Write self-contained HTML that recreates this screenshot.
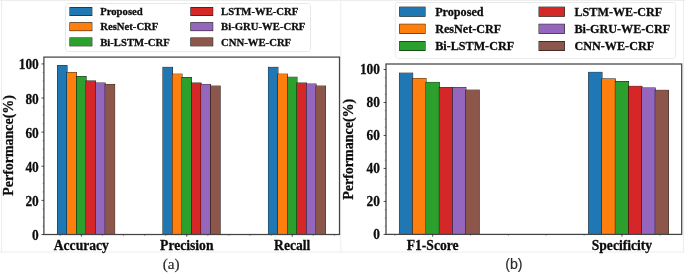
<!DOCTYPE html>
<html><head><meta charset="utf-8"><title>chart</title>
<style>html,body{margin:0;padding:0;background:#fff;}body{width:685px;height:274px;position:relative;overflow:hidden;font-family:"Liberation Serif",serif;}</style></head>
<body>
<svg width="685" height="274" viewBox="0 0 685 274" style="position:absolute;left:0;top:0;filter:blur(0.45px)">
<rect x="0" y="0" width="685" height="274" fill="#fff"/>
<g stroke="#ededed" stroke-width="1" fill="none">
<line x1="1.5" y1="0" x2="1.5" y2="252.0"/>
<line x1="0" y1="0.5" x2="685" y2="0.5"/>
<line x1="340.8" y1="0" x2="340.8" y2="252.0"/>
<line x1="0" y1="252.0" x2="685" y2="252.0"/>
<line x1="683.5" y1="0" x2="683.5" y2="252.0"/>
</g>
<g font-family="'Liberation Serif', serif" font-weight="bold" fill="#0c0c0c" stroke="#0c0c0c" stroke-width="0.28" paint-order="stroke">
<rect x="57.50" y="65.63" width="9.53" height="168.87" fill="#1f77b4" stroke="#050505" stroke-width="0.85"/>
<rect x="67.03" y="72.45" width="9.53" height="162.05" fill="#ff7f0e" stroke="#050505" stroke-width="0.85"/>
<rect x="76.56" y="76.55" width="9.53" height="157.95" fill="#2ca02c" stroke="#050505" stroke-width="0.85"/>
<rect x="86.09" y="80.98" width="9.53" height="153.52" fill="#d62728" stroke="#050505" stroke-width="0.85"/>
<rect x="95.62" y="83.03" width="9.53" height="151.47" fill="#9467bd" stroke="#050505" stroke-width="0.85"/>
<rect x="105.15" y="84.39" width="9.53" height="150.11" fill="#8c564b" stroke="#050505" stroke-width="0.85"/>
<rect x="162.95" y="67.33" width="9.53" height="167.17" fill="#1f77b4" stroke="#050505" stroke-width="0.85"/>
<rect x="172.48" y="74.16" width="9.53" height="160.34" fill="#ff7f0e" stroke="#050505" stroke-width="0.85"/>
<rect x="182.01" y="77.57" width="9.53" height="156.93" fill="#2ca02c" stroke="#050505" stroke-width="0.85"/>
<rect x="191.54" y="83.03" width="9.53" height="151.47" fill="#d62728" stroke="#050505" stroke-width="0.85"/>
<rect x="201.07" y="84.39" width="9.53" height="150.11" fill="#9467bd" stroke="#050505" stroke-width="0.85"/>
<rect x="210.60" y="86.10" width="9.53" height="148.40" fill="#8c564b" stroke="#050505" stroke-width="0.85"/>
<rect x="268.40" y="67.33" width="9.53" height="167.17" fill="#1f77b4" stroke="#050505" stroke-width="0.85"/>
<rect x="277.93" y="74.16" width="9.53" height="160.34" fill="#ff7f0e" stroke="#050505" stroke-width="0.85"/>
<rect x="287.46" y="77.23" width="9.53" height="157.27" fill="#2ca02c" stroke="#050505" stroke-width="0.85"/>
<rect x="296.99" y="83.03" width="9.53" height="151.47" fill="#d62728" stroke="#050505" stroke-width="0.85"/>
<rect x="306.52" y="84.05" width="9.53" height="150.45" fill="#9467bd" stroke="#050505" stroke-width="0.85"/>
<rect x="316.05" y="86.10" width="9.53" height="148.40" fill="#8c564b" stroke="#050505" stroke-width="0.85"/>
<rect x="43.9" y="57.1" width="295.6" height="177.4" fill="none" stroke="#444" stroke-width="1.25"/>
<line x1="41.5" y1="234.50" x2="43.9" y2="234.50" stroke="#222" stroke-width="0.8"/>
<text transform="translate(38.8,240.02) scale(0.93,1)" font-size="14.40" text-anchor="end">0</text>
<line x1="42.699999999999996" y1="225.97" x2="43.9" y2="225.97" stroke="#444" stroke-width="0.6"/>
<line x1="42.699999999999996" y1="217.44" x2="43.9" y2="217.44" stroke="#444" stroke-width="0.6"/>
<line x1="42.699999999999996" y1="208.91" x2="43.9" y2="208.91" stroke="#444" stroke-width="0.6"/>
<line x1="41.5" y1="200.38" x2="43.9" y2="200.38" stroke="#222" stroke-width="0.8"/>
<text transform="translate(38.8,205.91) scale(0.93,1)" font-size="14.40" text-anchor="end">20</text>
<line x1="42.699999999999996" y1="191.86" x2="43.9" y2="191.86" stroke="#444" stroke-width="0.6"/>
<line x1="42.699999999999996" y1="183.33" x2="43.9" y2="183.33" stroke="#444" stroke-width="0.6"/>
<line x1="42.699999999999996" y1="174.80" x2="43.9" y2="174.80" stroke="#444" stroke-width="0.6"/>
<line x1="41.5" y1="166.27" x2="43.9" y2="166.27" stroke="#222" stroke-width="0.8"/>
<text transform="translate(38.8,171.79) scale(0.93,1)" font-size="14.40" text-anchor="end">40</text>
<line x1="42.699999999999996" y1="157.74" x2="43.9" y2="157.74" stroke="#444" stroke-width="0.6"/>
<line x1="42.699999999999996" y1="149.21" x2="43.9" y2="149.21" stroke="#444" stroke-width="0.6"/>
<line x1="42.699999999999996" y1="140.68" x2="43.9" y2="140.68" stroke="#444" stroke-width="0.6"/>
<line x1="41.5" y1="132.15" x2="43.9" y2="132.15" stroke="#222" stroke-width="0.8"/>
<text transform="translate(38.8,137.68) scale(0.93,1)" font-size="14.40" text-anchor="end">60</text>
<line x1="42.699999999999996" y1="123.62" x2="43.9" y2="123.62" stroke="#444" stroke-width="0.6"/>
<line x1="42.699999999999996" y1="115.10" x2="43.9" y2="115.10" stroke="#444" stroke-width="0.6"/>
<line x1="42.699999999999996" y1="106.57" x2="43.9" y2="106.57" stroke="#444" stroke-width="0.6"/>
<line x1="41.5" y1="98.04" x2="43.9" y2="98.04" stroke="#222" stroke-width="0.8"/>
<text transform="translate(38.8,103.56) scale(0.93,1)" font-size="14.40" text-anchor="end">80</text>
<line x1="42.699999999999996" y1="89.51" x2="43.9" y2="89.51" stroke="#444" stroke-width="0.6"/>
<line x1="42.699999999999996" y1="80.98" x2="43.9" y2="80.98" stroke="#444" stroke-width="0.6"/>
<line x1="42.699999999999996" y1="72.45" x2="43.9" y2="72.45" stroke="#444" stroke-width="0.6"/>
<line x1="41.5" y1="63.92" x2="43.9" y2="63.92" stroke="#222" stroke-width="0.8"/>
<text transform="translate(38.8,69.45) scale(0.93,1)" font-size="14.40" text-anchor="end">100</text>
<line x1="81.33" y1="234.5" x2="81.33" y2="236.7" stroke="#222" stroke-width="0.8"/>
<text x="81.33" y="249.70" font-size="13.6" text-anchor="middle">Accuracy</text>
<line x1="186.77" y1="234.5" x2="186.77" y2="236.7" stroke="#222" stroke-width="0.8"/>
<text x="186.77" y="249.70" font-size="13.6" text-anchor="middle">Precision</text>
<line x1="292.22" y1="234.5" x2="292.22" y2="236.7" stroke="#222" stroke-width="0.8"/>
<text x="292.22" y="249.70" font-size="13.6" text-anchor="middle">Recall</text>
<line x1="60.23" y1="234.5" x2="60.23" y2="235.8" stroke="#444" stroke-width="0.6"/>
<line x1="102.42" y1="234.5" x2="102.42" y2="235.8" stroke="#444" stroke-width="0.6"/>
<line x1="123.50" y1="234.5" x2="123.50" y2="235.8" stroke="#444" stroke-width="0.6"/>
<line x1="144.59" y1="234.5" x2="144.59" y2="235.8" stroke="#444" stroke-width="0.6"/>
<line x1="165.69" y1="234.5" x2="165.69" y2="235.8" stroke="#444" stroke-width="0.6"/>
<line x1="207.87" y1="234.5" x2="207.87" y2="235.8" stroke="#444" stroke-width="0.6"/>
<line x1="228.95" y1="234.5" x2="228.95" y2="235.8" stroke="#444" stroke-width="0.6"/>
<line x1="250.05" y1="234.5" x2="250.05" y2="235.8" stroke="#444" stroke-width="0.6"/>
<line x1="271.13" y1="234.5" x2="271.13" y2="235.8" stroke="#444" stroke-width="0.6"/>
<line x1="313.31" y1="234.5" x2="313.31" y2="235.8" stroke="#444" stroke-width="0.6"/>
<line x1="334.41" y1="234.5" x2="334.41" y2="235.8" stroke="#444" stroke-width="0.6"/>
<text transform="translate(12.6,145.40) rotate(-90)" font-size="13.95" text-anchor="middle">Performance(%)</text>
<rect x="66" y="3.6" width="244" height="47.8" rx="2.5" fill="#fff" stroke="#cfcfcf" stroke-width="1"/>
<rect x="70.00" y="7.60" width="21.8" height="7.8" fill="#1f77b4" stroke="#000" stroke-width="1.0"/>
<text x="100.20" y="15.14" font-size="10.7">Proposed</text>
<rect x="70.00" y="22.80" width="21.8" height="7.8" fill="#ff7f0e" stroke="#000" stroke-width="1.0"/>
<text x="100.20" y="30.34" font-size="10.7">ResNet-CRF</text>
<rect x="70.00" y="38.00" width="21.8" height="7.8" fill="#2ca02c" stroke="#000" stroke-width="1.0"/>
<text x="100.20" y="45.54" font-size="10.7">Bi-LSTM-CRF</text>
<rect x="190.90" y="7.60" width="21.8" height="7.8" fill="#d62728" stroke="#000" stroke-width="1.0"/>
<text x="221.10" y="15.14" font-size="10.7">LSTM-WE-CRF</text>
<rect x="190.90" y="22.80" width="21.8" height="7.8" fill="#9467bd" stroke="#000" stroke-width="1.0"/>
<text x="221.10" y="30.34" font-size="10.7">Bi-GRU-WE-CRF</text>
<rect x="190.90" y="38.00" width="21.8" height="7.8" fill="#8c564b" stroke="#000" stroke-width="1.0"/>
<text x="221.10" y="45.54" font-size="10.7">CNN-WE-CRF</text>
<rect x="399.40" y="73.15" width="13.30" height="161.25" fill="#1f77b4" stroke="#050505" stroke-width="0.85"/>
<rect x="412.70" y="78.43" width="13.30" height="155.97" fill="#ff7f0e" stroke="#050505" stroke-width="0.85"/>
<rect x="426.00" y="82.38" width="13.30" height="152.02" fill="#2ca02c" stroke="#050505" stroke-width="0.85"/>
<rect x="439.30" y="87.66" width="13.30" height="146.74" fill="#d62728" stroke="#050505" stroke-width="0.85"/>
<rect x="452.60" y="87.49" width="13.30" height="146.91" fill="#9467bd" stroke="#050505" stroke-width="0.85"/>
<rect x="465.90" y="90.13" width="13.30" height="144.27" fill="#8c564b" stroke="#050505" stroke-width="0.85"/>
<rect x="588.70" y="72.33" width="13.30" height="162.07" fill="#1f77b4" stroke="#050505" stroke-width="0.85"/>
<rect x="602.00" y="78.92" width="13.30" height="155.48" fill="#ff7f0e" stroke="#050505" stroke-width="0.85"/>
<rect x="615.30" y="81.56" width="13.30" height="152.84" fill="#2ca02c" stroke="#050505" stroke-width="0.85"/>
<rect x="628.60" y="86.34" width="13.30" height="148.06" fill="#d62728" stroke="#050505" stroke-width="0.85"/>
<rect x="641.90" y="87.99" width="13.30" height="146.41" fill="#9467bd" stroke="#050505" stroke-width="0.85"/>
<rect x="655.20" y="90.30" width="13.30" height="144.10" fill="#8c564b" stroke="#050505" stroke-width="0.85"/>
<rect x="386.0" y="64.0" width="295.70000000000005" height="170.4" fill="none" stroke="#444" stroke-width="1.25"/>
<line x1="383.6" y1="234.40" x2="386.0" y2="234.40" stroke="#222" stroke-width="0.8"/>
<text transform="translate(380.0,239.02) scale(0.93,1)" font-size="14.40" text-anchor="end">0</text>
<line x1="384.8" y1="226.16" x2="386.0" y2="226.16" stroke="#444" stroke-width="0.6"/>
<line x1="384.8" y1="217.91" x2="386.0" y2="217.91" stroke="#444" stroke-width="0.6"/>
<line x1="384.8" y1="209.67" x2="386.0" y2="209.67" stroke="#444" stroke-width="0.6"/>
<line x1="383.6" y1="201.42" x2="386.0" y2="201.42" stroke="#222" stroke-width="0.8"/>
<text transform="translate(380.0,206.05) scale(0.93,1)" font-size="14.40" text-anchor="end">20</text>
<line x1="384.8" y1="193.18" x2="386.0" y2="193.18" stroke="#444" stroke-width="0.6"/>
<line x1="384.8" y1="184.94" x2="386.0" y2="184.94" stroke="#444" stroke-width="0.6"/>
<line x1="384.8" y1="176.69" x2="386.0" y2="176.69" stroke="#444" stroke-width="0.6"/>
<line x1="383.6" y1="168.45" x2="386.0" y2="168.45" stroke="#222" stroke-width="0.8"/>
<text transform="translate(380.0,173.07) scale(0.93,1)" font-size="14.40" text-anchor="end">40</text>
<line x1="384.8" y1="160.21" x2="386.0" y2="160.21" stroke="#444" stroke-width="0.6"/>
<line x1="384.8" y1="151.96" x2="386.0" y2="151.96" stroke="#444" stroke-width="0.6"/>
<line x1="384.8" y1="143.72" x2="386.0" y2="143.72" stroke="#444" stroke-width="0.6"/>
<line x1="383.6" y1="135.47" x2="386.0" y2="135.47" stroke="#222" stroke-width="0.8"/>
<text transform="translate(380.0,140.10) scale(0.93,1)" font-size="14.40" text-anchor="end">60</text>
<line x1="384.8" y1="127.23" x2="386.0" y2="127.23" stroke="#444" stroke-width="0.6"/>
<line x1="384.8" y1="118.99" x2="386.0" y2="118.99" stroke="#444" stroke-width="0.6"/>
<line x1="384.8" y1="110.74" x2="386.0" y2="110.74" stroke="#444" stroke-width="0.6"/>
<line x1="383.6" y1="102.50" x2="386.0" y2="102.50" stroke="#222" stroke-width="0.8"/>
<text transform="translate(380.0,107.12) scale(0.93,1)" font-size="14.40" text-anchor="end">80</text>
<line x1="384.8" y1="94.25" x2="386.0" y2="94.25" stroke="#444" stroke-width="0.6"/>
<line x1="384.8" y1="86.01" x2="386.0" y2="86.01" stroke="#444" stroke-width="0.6"/>
<line x1="384.8" y1="77.77" x2="386.0" y2="77.77" stroke="#444" stroke-width="0.6"/>
<line x1="383.6" y1="69.52" x2="386.0" y2="69.52" stroke="#222" stroke-width="0.8"/>
<text transform="translate(380.0,74.15) scale(0.93,1)" font-size="14.40" text-anchor="end">100</text>
<line x1="432.65" y1="234.4" x2="432.65" y2="236.6" stroke="#222" stroke-width="0.8"/>
<text x="432.65" y="249.60" font-size="13.6" text-anchor="middle">F1-Score</text>
<line x1="621.95" y1="234.4" x2="621.95" y2="236.6" stroke="#222" stroke-width="0.8"/>
<text x="621.95" y="249.60" font-size="13.6" text-anchor="middle">Specificity</text>
<line x1="394.79" y1="234.4" x2="394.79" y2="235.70000000000002" stroke="#444" stroke-width="0.6"/>
<line x1="470.51" y1="234.4" x2="470.51" y2="235.70000000000002" stroke="#444" stroke-width="0.6"/>
<line x1="508.37" y1="234.4" x2="508.37" y2="235.70000000000002" stroke="#444" stroke-width="0.6"/>
<line x1="546.23" y1="234.4" x2="546.23" y2="235.70000000000002" stroke="#444" stroke-width="0.6"/>
<line x1="584.09" y1="234.4" x2="584.09" y2="235.70000000000002" stroke="#444" stroke-width="0.6"/>
<line x1="659.81" y1="234.4" x2="659.81" y2="235.70000000000002" stroke="#444" stroke-width="0.6"/>
<text transform="translate(353.0,149.30) rotate(-90)" font-size="14.0" text-anchor="middle">Performance(%)</text>
<rect x="395.4" y="2.6" width="280.20000000000005" height="55.3" rx="2.5" fill="#fff" stroke="#cfcfcf" stroke-width="1"/>
<rect x="399.80" y="7.20" width="25.2" height="9" fill="#1f77b4" stroke="#000" stroke-width="1.0"/>
<text x="435.20" y="15.83" font-size="12.15">Proposed</text>
<rect x="399.80" y="24.30" width="25.2" height="9" fill="#ff7f0e" stroke="#000" stroke-width="1.0"/>
<text x="435.20" y="32.93" font-size="12.15">ResNet-CRF</text>
<rect x="399.80" y="41.50" width="25.2" height="9" fill="#2ca02c" stroke="#000" stroke-width="1.0"/>
<text x="435.20" y="50.13" font-size="12.15">Bi-LSTM-CRF</text>
<rect x="539.10" y="7.20" width="25.2" height="9" fill="#d62728" stroke="#000" stroke-width="1.0"/>
<text x="574.50" y="15.83" font-size="12.15">LSTM-WE-CRF</text>
<rect x="539.10" y="24.30" width="25.2" height="9" fill="#9467bd" stroke="#000" stroke-width="1.0"/>
<text x="574.50" y="32.93" font-size="12.15">Bi-GRU-WE-CRF</text>
<rect x="539.10" y="41.50" width="25.2" height="9" fill="#8c564b" stroke="#000" stroke-width="1.0"/>
<text x="574.50" y="50.13" font-size="12.15">CNN-WE-CRF</text>
</g>
<text x="171.2" y="268.6" font-family="'Liberation Serif', serif" font-size="15.2" fill="#2a2a2a" stroke="#2a2a2a" stroke-width="0.2" text-anchor="middle">(a)</text>
<text x="513.9" y="268.5" font-family="'Liberation Sans', sans-serif" font-size="14.2" fill="#2a2a2a" stroke="#2a2a2a" stroke-width="0.15" text-anchor="middle">(b)</text>
</svg>
</body></html>
